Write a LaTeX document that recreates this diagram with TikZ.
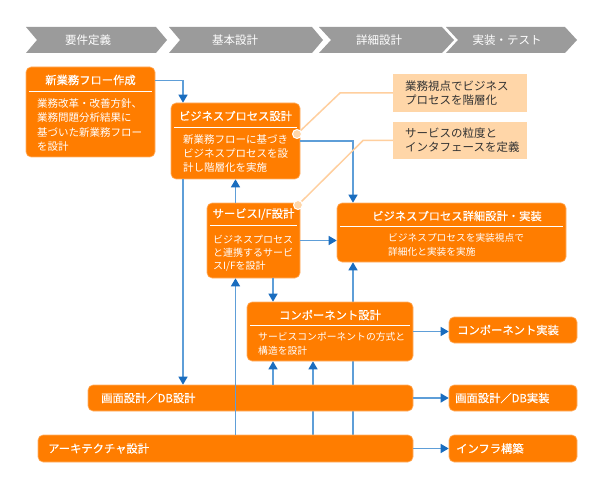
\documentclass[tikz,border=0pt]{standalone}
\usepackage{fontspec}
\setmainfont{Noto Sans CJK JP}
\newfontfamily\ttlfont[FakeBold=0.5]{Noto Sans CJK JP}
\usetikzlibrary{arrows.meta,calc}
\pgfdeclarelayer{background}
\pgfdeclarelayer{paper}
\pgfsetlayers{paper,background,main}
\definecolor{orng}{HTML}{FF7D00}
\definecolor{peach}{HTML}{FFD6A8}
\definecolor{peachline}{HTML}{FFCF9E}
\definecolor{lblue}{HTML}{5E9ED8}
\definecolor{dblue}{HTML}{1A6DBF}
\definecolor{hdr}{HTML}{9B9B9B}
\definecolor{txt}{HTML}{333333}
\tikzset{
  box/.style={fill=orng, draw=orng!60!white, line width=0.6pt, rounded corners=5pt, inner sep=0pt},
  callout/.style={fill=peach, draw=none, inner sep=0pt},
  ttl/.style={inner sep=0pt, text=white, font=\ttlfont\fontsize{11.3}{13}\selectfont},
  bdy/.style={inner sep=0pt, text=white, align=left, anchor=north west, font=\fontsize{10.5}{14}\selectfont},
  ctxt/.style={inner sep=0pt, text=txt, align=left, anchor=west, font=\fontsize{11.5}{14}\selectfont},
  hlbl/.style={inner sep=0pt, text=white, font=\fontsize{11.5}{13}\selectfont},
  chev/.style={fill=hdr, draw=none},
  divider/.style={draw=white, line width=0.8pt},
  conn/.style={draw=lblue, line width=1.3pt, -{Triangle[width=9pt,length=8pt,color=dblue]}},
  cline/.style={draw=peachline, line width=1.5pt},
  dot/.style={circle, fill=peach, draw=white, line width=1pt, minimum size=9pt, inner sep=0pt}
}
\begin{document}
\begin{tikzpicture}[x=1pt,y=-1pt]
\useasboundingbox (0,0) rectangle (600,500);
\begin{pgfonlayer}{paper}
\fill[white] (0,0) rectangle (600,500);
\end{pgfonlayer}
% header chevrons
\fill[chev] (26,27) -- (156,27) -- (167,40) -- (156,53) -- (26,53) -- (37,40) -- cycle;
\fill[chev] (169,27) -- (312,27) -- (323,40) -- (312,53) -- (169,53) -- (180,40) -- cycle;
\fill[chev] (319,27) -- (442,27) -- (454,40) -- (442,53) -- (319,53) -- (331,40) -- cycle;
\fill[chev] (446,27) -- (565,27) -- (577,40) -- (565,53) -- (446,53) -- (458,40) -- cycle;
\node[hlbl] (h1) at (88,40) {要件定義};
\node[hlbl] (h2) at (235,40) {基本設計};
\node[hlbl] (h3) at (379,40) {詳細設計};
\node[hlbl] (h4) at (507,40) {実装・テスト};

% lane coordinates
\coordinate (x183) at (183,0);
\coordinate (x273) at (273,0);
\coordinate (x313) at (313,0);
\coordinate (x353) at (353,0);

% boxes
\node[box, minimum width=129pt, minimum height=90pt] (nf) at (90.5,112) {};
\node[box, minimum width=129pt, minimum height=76pt] (bp) at (235.5,141) {};
\node[box, minimum width=93pt, minimum height=75pt] (sf) at (253.5,240.5) {};
\node[box, minimum width=229pt, minimum height=59pt] (dt) at (451.5,232.5) {};
\node[box, minimum width=166pt, minimum height=59pt] (cp) at (330,331.5) {};
\node[box, minimum width=128pt, minimum height=26pt] (ci) at (513,330) {};
\node[box, minimum width=325pt, minimum height=26pt] (sc) at (250.5,398) {};
\node[box, minimum width=128pt, minimum height=26pt] (si) at (513,398) {};
\node[box, minimum width=375pt, minimum height=27pt] (ar) at (225.5,448.5) {};
\node[box, minimum width=128pt, minimum height=27pt] (ib) at (513,448.5) {};
\node[callout, minimum width=134pt, minimum height=38pt] (c1) at (460,93) {};
\node[callout, minimum width=134pt, minimum height=37pt] (c2) at (460,140.5) {};

% box texts
\node[ttl] (nft) at (90.5,80) {新業務フロー作成};
\draw[divider] (29,91) -- (152,91);
\node[bdy, font=\fontsize{10.5}{14.5}\selectfont] (nfb) at (37,98) {業務改革・改善方針、\\業務問題分析結果に\\基づいた新業務フロー\\を設計};

\node[ttl] (bpt) at (235.5,116) {ビジネスプロセス設計};
\draw[divider] (174,127) -- (297,127);
\node[bdy] (bpb) at (183,134) {新業務フローに基づき\\ビジネスプロセスを設\\計し階層化を実施};

\node[ttl] (sft) at (253.5,214) {サービスI/F設計};
\draw[divider] (210,225) -- (297,225);
\node[bdy, font=\fontsize{10}{13.2}\selectfont] (sfb) at (213,235) {ビジネスプロセス\\と連携するサービ\\スI/Fを設計};

\node[ttl] (dtt) at (457,216) {ビジネスプロセス詳細設計・実装};
\draw[divider] (340,226) -- (563,226);
\node[bdy, font=\fontsize{9.7}{14}\selectfont] (dtb) at (388,233) {ビジネスプロセスを実装視点で\\詳細化と実装を実施};

\node[ttl] (cpt) at (330,315) {コンポーネント設計};
\draw[divider] (250,325) -- (410,325);
\node[bdy, font=\fontsize{9.8}{14}\selectfont] (cpb) at (258,332) {サービスコンポーネントの方式と\\構造を設計};

\node[ttl, anchor=west] (cit) at (457,330) {コンポーネント実装};
\node[ttl, anchor=west] (sct) at (101,398) {画面設計／DB設計};
\node[ttl, anchor=west] (sit) at (455,398) {画面設計／DB実装};
\node[ttl, anchor=west] (art) at (48,448.5) {アーキテクチャ設計};
\node[ttl, anchor=west] (ibt) at (456,448.5) {インフラ構築};

\node[ctxt] (c1t) at (405,93) {業務視点でビジネス\\プロセスを階層化};
\node[ctxt] (c2t) at (405,140.5) {サービスの粒度と\\インタフェースを定義};

% connectors behind boxes
\begin{pgfonlayer}{background}
\draw[conn] (ar.north -| x313) -- (cp.south -| x313);
\draw[conn] (ar.north -| x353) -- (dt.south -| x353);
\end{pgfonlayer}

% connectors
\draw[conn] ($(nf.north east)+(0,14)$) -| (bp.north -| x183);
\draw[conn] (bp.east) -| (dt.north -| x353);
\draw[conn] (sf.north -| bp.south) -- (bp.south);
\draw[conn] (sf.east) -- (sf.east -| dt.west);
\draw[conn] (sf.south -| x273) -- (cp.north -| x273);
\draw[conn] (bp.south -| x183) -- (sc.north -| x183);
\draw[conn] (sc.north -| x273) -- (cp.south -| x273);
\draw[conn] (ar.north -| bp.south) -- (sf.south -| bp.south);
\draw[conn] (cp.east) -- (cp.east -| ci.west);
\draw[conn] (sc.east) -- (si.west);
\draw[conn] (ar.east) -- (ar.east -| ib.west);

% callout leaders
\coordinate (d1) at (297,134);
\coordinate (d2) at (298,205);
\draw[cline] (d1) -- (340,93) -- (c1.west);
\draw[cline] (d2) -- (363,140.5) -- (c2.west);
\node[dot] (dot1) at (d1) {};
\node[dot] (dot2) at (d2) {};
\end{tikzpicture}
\end{document}
